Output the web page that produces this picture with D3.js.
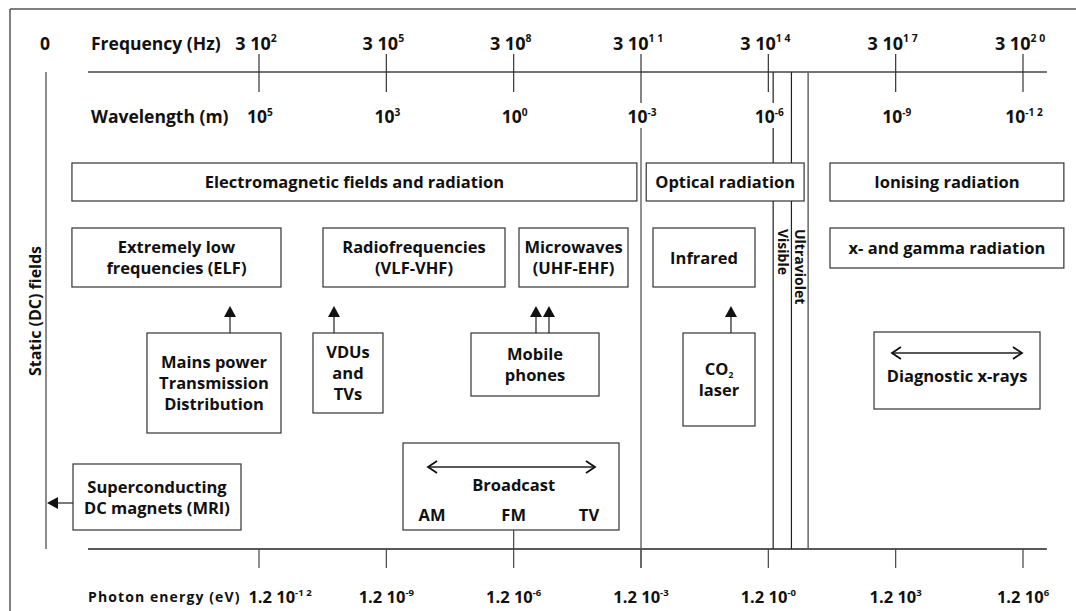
<!DOCTYPE html>
<html>
<head>
<meta charset="utf-8">
<script src="https://cdn.jsdelivr.net/npm/d3@7/dist/d3.min.js"></script>
<style>
  body { margin: 0; background: #fff; }
  svg { display: block; font-family: "Open Sans", Lato, sans-serif; font-weight: 700; fill: #111; }
</style>
</head>
<body>
<svg id="chart" width="1076" height="611"></svg>
<script>
// ---- data ----
const freqValues = [3e2, 3e5, 3e8, 3e11, 3e14, 3e17, 3e20];
const freqLabels = [['3 10', '2'], ['3 10', '5'], ['3 10', '8'], ['3 10', '1 1'], ['3 10', '1 4'], ['3 10', '1 7'], ['3 10', '2 0']];
const waveLabels = [['10', '5'], ['10', '3'], ['10', '0'], ['10', '-3'], ['10', '-6'], ['10', '-9'], ['10', '-1 2']];
const energyLabels = [['1.2 10', '-1 2'], ['1.2 10', '-9'], ['1.2 10', '-6'], ['1.2 10', '-3'], ['1.2 10', '-0'], ['1.2 10', '3'], ['1.2 10', '6']];

const opticalEdge = 3e11;                 // 10^-3 m, end of EMF
const visibleEdges = [3.9e14, 1.05e15, 2.6e15]; // IR|visible, visible|UV, UV|ionising

const groupNames = ['Electromagnetic fields and radiation', 'Optical radiation', 'Ionising radiation'];
const bandNames = [['Extremely low', 'frequencies (ELF)'], ['Radiofrequencies', '(VLF-VHF)'], ['Microwaves', '(UHF-EHF)'], ['Infrared'], ['x- and gamma radiation']];
const sourceNames = [['Mains power', 'Transmission', 'Distribution'], ['VDUs', 'and', 'TVs'], ['Mobile', 'phones'], ['CO|2', 'laser']];
const broadcastBands = ['AM', 'FM', 'TV'];

// ---- layout (x in log10 Hz, y in px) ----
const groupSpan = [[-1.93, 11.38], [11.6, 15.32], [15.93, 21.44]];
const bandSpan = [[-1.93, 2.995, 59], [3.985, 8.273, 59], [8.603, 11.171, 59], [11.76, 14.163, 59], [15.93, 21.44, 40]];
const sourceSpan = [[-0.162, 2.995, 100], [3.749, 5.398, 80], [7.472, 10.488, 63], [12.467, 14.163, 93]];
const sourceArrows = [[1.794], [4.244], [9.003, 9.309], [13.597]];

const svg = d3.select('#chart');
const x = d3.scaleLog().domain([3e2, 3e20]).range([259, 1023]);
const dx = e => x(Math.pow(10, e));
const yTop = 72, yBot = 549;
const ink = '#222';
const fs = 16.5;

function label(g, px, py, base, sup, size, anchor) {
  const t = g.append('text').attr('x', px).attr('y', py)
    .attr('text-anchor', anchor || 'middle').style('font-size', size + 'px');
  t.append('tspan').text(base);
  if (sup) t.append('tspan').attr('dy', -size * 0.42).style('font-size', (size * 0.58) + 'px').text(sup);
  return t;
}

function line(x1, y1, x2, y2, color, w) {
  svg.append('line').attr('x1', x1).attr('y1', y1).attr('x2', x2).attr('y2', y2)
    .attr('stroke', color || ink).attr('stroke-width', w || 1.2);
}

function box(x0, x1, y0, h, lines) {
  svg.append('rect').attr('x', x0).attr('y', y0).attr('width', x1 - x0).attr('height', h)
    .attr('fill', '#fff').attr('stroke', '#333').attr('stroke-width', 1.2);
  const lh = 21, cx = (x0 + x1) / 2;
  const start = y0 + h / 2 - (lines.length - 1) * lh / 2 + 6;
  lines.forEach((s, i) => {
    const parts = s.split('|');
    const t = svg.append('text').attr('x', cx).attr('y', start + i * lh)
      .attr('text-anchor', 'middle').style('font-size', fs + 'px');
    t.append('tspan').text(parts[0]);
    if (parts[1]) t.append('tspan').attr('dy', 3).style('font-size', '8.5px').text(parts[1]);
  });
}

function upArrow(px, y0, tip) {
  line(px, y0, px, tip + 10, ink, 1.2);
  svg.append('path').attr('d', `M${px},${tip}L${px - 6},${tip + 11}L${px + 6},${tip + 11}Z`).attr('fill', '#111');
}

function doubleArrow(x0, x1, py) {
  line(x0, py, x1, py, ink, 1.3);
  svg.append('path').attr('d', `M${x0 + 9},${py - 6}L${x0},${py}L${x0 + 9},${py + 6}M${x1 - 9},${py - 6}L${x1},${py}L${x1 - 9},${py + 6}`)
    .attr('fill', 'none').attr('stroke', '#111').attr('stroke-width', 1.8);
}

// frame
line(10, 9, 1076, 9, '#555', 1.5);
line(10, 9, 10, 611, '#555', 1.5);

// axes
line(dx(-1.552), yTop, dx(21.04), yTop, '#444', 1.5);
line(dx(-1.552), yBot, dx(21.04), yBot, '#222', 1.5);

// static (0 Hz) line sits left of the log scale
line(46, yTop, 46, yBot, '#666', 1.5);

// frequency ticks
freqValues.forEach(f => {
  line(x(f), 54, x(f), f === opticalEdge ? 103 : 92, '#333', 1.2);
  line(x(f), yBot, x(f), 568, '#444', 1.2);
});
// EMF / optical divider
line(x(opticalEdge), 128, x(opticalEdge), 568, '#555', 1.3);
// visible / UV bounds
line(x(visibleEdges[0]), yTop, x(visibleEdges[0]), 103, ink, 1.2);
line(x(visibleEdges[0]), 128, x(visibleEdges[0]), yBot, ink, 1.2);
line(x(visibleEdges[1]), yTop, x(visibleEdges[1]), yBot, ink, 1.2);
line(x(visibleEdges[2]), yTop, x(visibleEdges[2]), yBot, '#666', 1.5);

// FM tick up to broadcast box
line(x(3e8), 530, x(3e8), yBot, '#444', 1.2);

// header labels
label(svg, 45, 50, '0', null, 17.5);
label(svg, 91, 50, 'Frequency (Hz)', null, 17.5, 'start');
label(svg, 91, 123, 'Wavelength (m)', null, 17.5, 'start');
label(svg, 88, 602, 'Photon energy (eV)', null, 14, 'start').style('letter-spacing', '1.1px');

freqValues.forEach((f, i) => {
  label(svg, x(f) - 3, 50, freqLabels[i][0], freqLabels[i][1], 18);
  label(svg, x(f) + 1, 123, waveLabels[i][0], waveLabels[i][1], 17.5);
  label(svg, i === 0 ? x(f) + 21 : x(f), 603, energyLabels[i][0], energyLabels[i][1], 16.5);
});

// rotated labels
svg.append('text').attr('transform', 'translate(35,311) rotate(-90)')
  .attr('text-anchor', 'middle').attr('dominant-baseline', 'central').style('font-size', '16px').text('Static (DC) fields');
svg.append('text').attr('transform', `translate(${(x(visibleEdges[0]) + x(visibleEdges[1])) / 2 + 1},229) rotate(90)`)
  .attr('dominant-baseline', 'central').style('font-size', '14px').text('Visible');
svg.append('text').attr('transform', `translate(${(x(visibleEdges[1]) + x(visibleEdges[2])) / 2 + 1},229) rotate(90)`)
  .attr('dominant-baseline', 'central').style('font-size', '14px').text('Ultraviolet');

// group row
groupNames.forEach((g, i) => box(dx(groupSpan[i][0]), dx(groupSpan[i][1]), 163, 38, [g]));
// band row
bandNames.forEach((b, i) => box(dx(bandSpan[i][0]), dx(bandSpan[i][1]), 228, bandSpan[i][2], b));
// sources
sourceNames.forEach((s, i) => {
  box(dx(sourceSpan[i][0]), dx(sourceSpan[i][1]), 333, sourceSpan[i][2], s);
  sourceArrows[i].forEach(e => upArrow(dx(e), 333, 306));
});

// diagnostic x-rays
box(dx(16.967), dx(20.878), 332, 77, []);
doubleArrow(dx(17.39), dx(20.453), 353);
label(svg, (dx(16.967) + dx(20.878)) / 2, 382, 'Diagnostic x-rays', null, fs);

// superconducting magnets -> static field
box(dx(-1.905), dx(2.053), 464, 66, ['Superconducting', 'DC magnets (MRI)']);
line(dx(-1.905), 503, 57, 503, ink, 1.2);
svg.append('path').attr('d', 'M47,503L58,497L58,509Z').attr('fill', '#111');

// broadcast
box(dx(5.870), dx(10.959), 443, 87, []);
doubleArrow(dx(6.459), dx(10.393), 467);
label(svg, x(3e8), 491, 'Broadcast', null, fs);
[6.553, Math.log10(3e8), 10.252].forEach((e, i) => label(svg, dx(e), 521, broadcastBands[i], null, fs));
</script>
</body>
</html>
